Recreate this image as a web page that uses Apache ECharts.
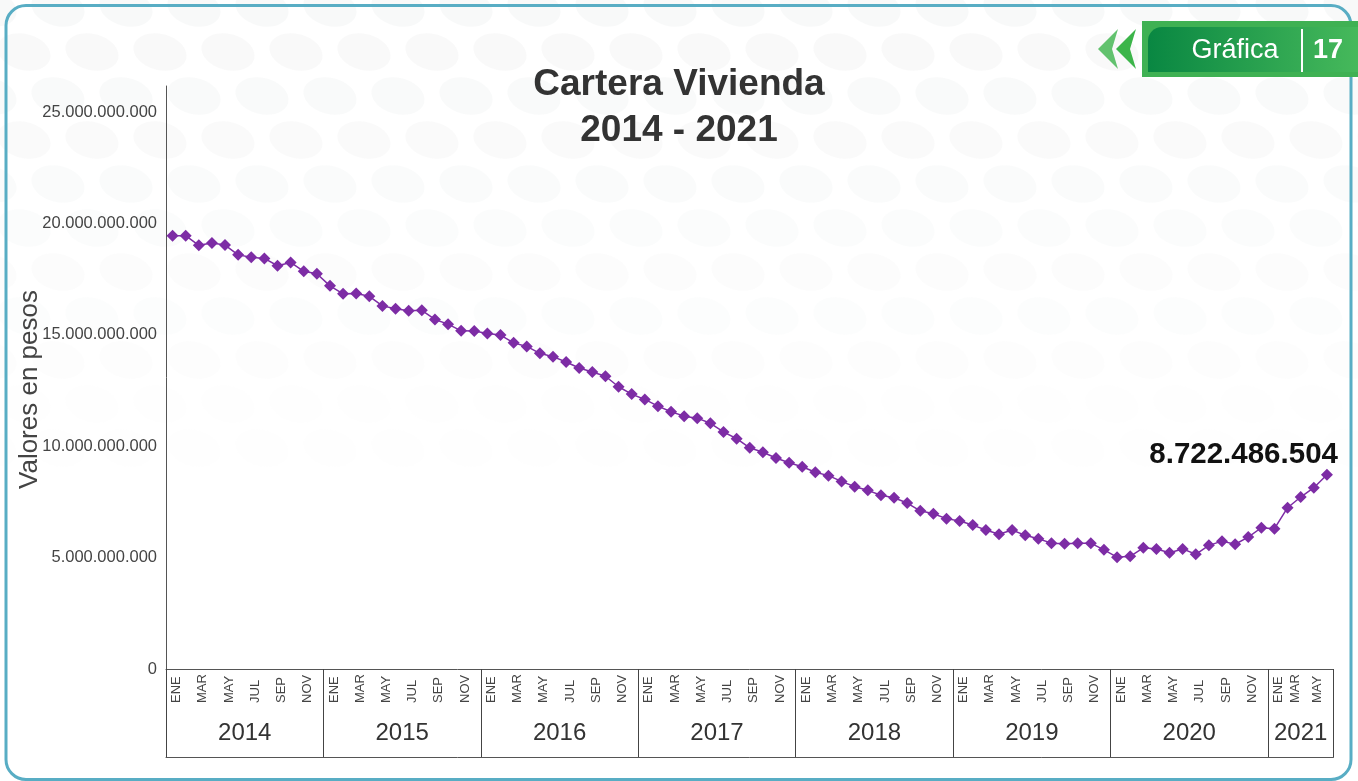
<!DOCTYPE html>
<html>
<head>
<meta charset="utf-8">
<script src="https://cdn.jsdelivr.net/npm/echarts@6/dist/echarts.min.js"></script>
<style>
html,body{margin:0;padding:0;background:#fff;}
#chart{width:1358px;height:781px;}
</style>
</head>
<body>
<div id="chart"></div>
<script>
// ---- Data ----
const years = ['2014','2015','2016','2017','2018','2019','2020','2021'];
const monthNames = ['ENE','FEB','MAR','ABR','MAY','JUN','JUL','AGO','SEP','OCT','NOV','DIC'];
const monthsPerYear = [12,12,12,12,12,12,12,5];
const values2014 = [19.45e9,19.45e9,19.02e9,19.12e9,19.03e9,18.59e9,18.48e9,18.43e9,18.10e9,18.25e9,17.85e9,17.74e9];
const values2015 = [17.20e9,16.84e9,16.86e9,16.73e9,16.30e9,16.17e9,16.08e9,16.10e9,15.69e9,15.48e9,15.18e9,15.17e9];
const values2016 = [15.06e9,14.99e9,14.64e9,14.48e9,14.17e9,14.02e9,13.78e9,13.51e9,13.33e9,13.14e9,12.67e9,12.34e9];
const values2017 = [12.10e9,11.80e9,11.55e9,11.35e9,11.26e9,11.03e9,10.64e9,10.34e9,9.93e9,9.73e9,9.47e9,9.26e9];
const values2018 = [9.08e9,8.83e9,8.68e9,8.42e9,8.18e9,8.02e9,7.80e9,7.69e9,7.45e9,7.10e9,6.97e9,6.75e9];
const values2019 = [6.64e9,6.46e9,6.24e9,6.05e9,6.24e9,6.00e9,5.85e9,5.65e9,5.62e9,5.65e9,5.65e9,5.35e9];
const values2020 = [5.02e9,5.06e9,5.44e9,5.39e9,5.22e9,5.39e9,5.15e9,5.55e9,5.74e9,5.60e9,5.92e9,6.34e9];
const values2021 = [6.30e9,7.24e9,7.72e9,8.14e9,8722486504];
const yTicks = [0,5e9,10e9,15e9,20e9,25e9];
const titleText = 'Cartera Vivienda\n2014 - 2021';
const yAxisName = 'Valores en pesos';

// ---- Build ----
const values = [].concat(values2014,values2015,values2016,values2017,values2018,values2019,values2020,values2021);
const months = [];
const yearStart = [];
years.forEach((y, yi) => {
  yearStart.push(months.length);
  for (let m = 0; m < monthsPerYear[yi]; m++) { months.push(monthNames[m]); }
});
const yearLabelIndex = {};
years.forEach((y, yi) => { yearLabelIndex[yearStart[yi] + Math.floor(monthsPerYear[yi] / 2)] = yi; });
const lastYearStart = yearStart[yearStart.length - 1];

function fmt(v){ return String(Math.round(v)).replace(/\B(?=(\d{3})+(?!\d))/g, '.'); }

const FONT = "'Liberation Sans', Arial, Helvetica, sans-serif";
const lastIdx = values.length - 1;
const seriesData = values.map((v, i) => i === lastIdx ? {
  value: v,
  label: {
    show: true, position: 'top', align: 'right', offset: [11, 6],
    formatter: p => fmt(p.value),
    fontFamily: FONT, fontSize: 29.5, fontWeight: 'bold', color: '#111'
  }
} : v);

// decorative background dots (faint)
const bg = [];
for (let r = 0; r < 12; r++) {
  for (let c = 0; c < 21; c++) {
    const cx = c * 68 + (r % 2) * 34 - 10;
    const cy = r * 44 + 8;
    const op = Math.max(0, 0.42 - r * 0.038);
    bg.push({ type: 'ellipse', shape: { cx: cx, cy: cy, rx: 27, ry: 18 }, rotation: -0.25,
      originX: cx, originY: cy, style: { fill: '#eef0f0', opacity: op }, silent: true, z: -10 });
  }
}

const mStyle = { fontFamily: FONT, fontSize: 13, color: '#444' };
const chart = echarts.init(document.getElementById('chart'), null, { renderer: 'canvas' });
const option = {
  backgroundColor: '#ffffff',
  animation: false,
  title: {
    text: titleText, left: 'center', top: 57,
    textStyle: { fontFamily: FONT, fontSize: 37, fontWeight: 'bold', color: '#333', lineHeight: 46 }
  },
  grid: { left: 166, right: 24.5, top: 86, bottom: 112, containLabel: false, outerBoundsMode: 'none' },
  xAxis: [
    {
      type: 'category', data: months, boundaryGap: true, position: 'bottom',
      axisLine: { show: true, lineStyle: { color: '#555', width: 1 } },
      axisTick: { show: false },
      axisLabel: { interval: 1, rotate: 90, align: 'left', margin: 34,
        formatter: (v, i) => {
          const k = i - lastYearStart;
          if (k === 2) return '{a|' + v + '}';
          if (k === 4) return '{b|' + v + '}';
          return '{m|' + v + '}';
        },
        rich: {
          m: Object.assign({ padding: [8, 0, 0, 0] }, mStyle),
          a: Object.assign({ padding: [0, 0, 10, 0] }, mStyle),
          b: Object.assign({ padding: [0, 0, 20, 0] }, mStyle)
        } },
      splitLine: { show: false }
    },
    {
      type: 'category', data: months, boundaryGap: true, position: 'bottom', offset: 0,
      axisLine: { show: false },
      axisTick: { show: true, length: 88, interval: (i) => yearStart.indexOf(i) >= 0, lineStyle: { color: '#444', width: 1 } },
      axisLabel: {
        show: true, interval: (i) => yearLabelIndex[i] !== undefined, margin: 52,
        formatter: (v, i) => {
          const yi = yearLabelIndex[i];
          return monthsPerYear[yi] % 2 === 0 ? '{s|' + years[yi] + '}' : '{c|' + years[yi] + '}';
        },
        rich: {
          s: { fontFamily: FONT, fontSize: 24, color: '#333', padding: [0, 13, 0, 0] },
          c: { fontFamily: FONT, fontSize: 24, color: '#333' }
        }
      },
      splitLine: { show: false }
    },
    {
      type: 'category', data: months, boundaryGap: true, position: 'bottom', offset: 88,
      axisLine: { show: true, lineStyle: { color: '#555', width: 1 } },
      axisTick: { show: false }, axisLabel: { show: false }, splitLine: { show: false }
    }
  ],
  yAxis: {
    type: 'value', min: 0, max: 26.17e9, interval: 5e9,
    name: yAxisName, nameLocation: 'middle', nameGap: 123, nameRotate: 90, nameMoveOverlap: false,
    nameTextStyle: { fontFamily: FONT, fontSize: 26, color: '#444', padding: [0, 24, 0, 0] },
    axisLine: { show: true, lineStyle: { color: '#555', width: 1 } },
    axisTick: { show: false },
    axisLabel: { showMaxLabel: false, margin: 9, fontFamily: FONT, fontSize: 16.5, color: '#444',
      formatter: v => (yTicks.indexOf(v) >= 0 ? fmt(v) : '') },
    splitLine: { show: false }
  },
  series: [{
    type: 'line', data: seriesData, xAxisIndex: 0,
    symbol: 'diamond', symbolSize: 12, showSymbol: true, showAllSymbol: true,
    lineStyle: { color: '#7d2ca5', width: 1.5 },
    itemStyle: { color: '#7d2ca5' },
    z: 5
  }],
  graphic: bg.concat([
    { type: 'rect', shape: { x: 6, y: 5.5, width: 1345, height: 774, r: 20 },
      style: { fill: null, stroke: '#58adc4', lineWidth: 3 }, silent: true, z: 100 },
    { type: 'polygon', shape: { points: [[1098,49],[1118,29],[1112,49],[1118,69]] }, style: { fill: '#62c26e' }, z: 100 },
    { type: 'polygon', shape: { points: [[1116,49],[1136,29],[1130,49],[1136,69]] }, style: { fill: '#3cb54a' }, z: 100 },
    { type: 'rect', shape: { x: 1142, y: 21, width: 216, height: 56 }, style: { fill: '#3fb153' }, z: 100 },
    { type: 'rect', shape: { x: 1148, y: 27, width: 210, height: 45, r: [14, 0, 0, 0] },
      style: { fill: new echarts.graphic.LinearGradient(0, 0, 1, 0, [
        { offset: 0, color: '#098742' }, { offset: 1, color: '#46b95b' }]) }, z: 101 },
    { type: 'text', x: 1235, y: 51, style: { text: 'Gráfica', fill: '#fff', font: '27px ' + FONT, textAlign: 'center', textVerticalAlign: 'middle' }, z: 102 },
    { type: 'line', shape: { x1: 1302, y1: 29, x2: 1302, y2: 72 }, style: { stroke: '#fff', lineWidth: 2 }, z: 102 },
    { type: 'text', x: 1328, y: 51, style: { text: '17', fill: '#fff', font: 'bold 27px ' + FONT, textAlign: 'center', textVerticalAlign: 'middle' }, z: 102 }
  ])
};
chart.setOption(option);
</script>
</body>
</html>
